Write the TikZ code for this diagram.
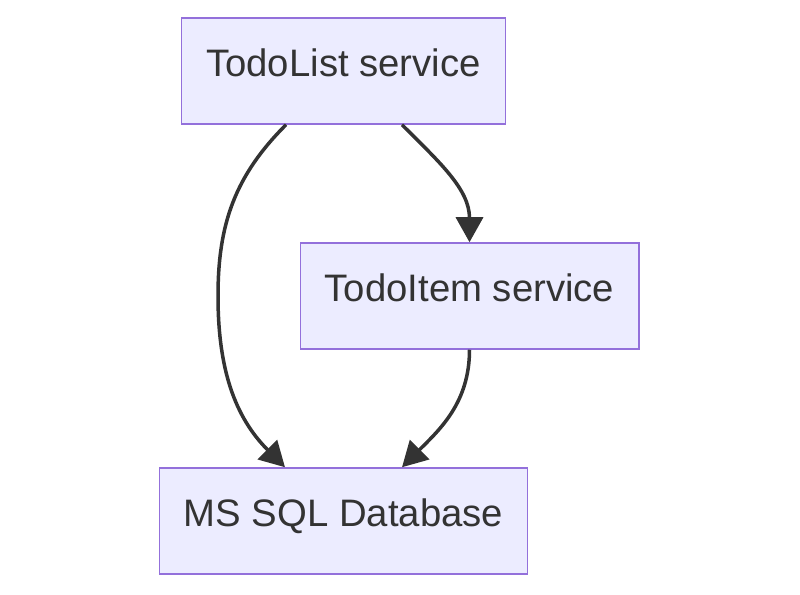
\documentclass[tikz,border=0pt]{standalone}
\usepackage{fontspec}
\setmainfont{Liberation Sans}
\usetikzlibrary{positioning,arrows.meta}

\definecolor{boxfill}{HTML}{ECECFF}
\definecolor{boxline}{HTML}{9370DB}
\definecolor{inkgray}{HTML}{333333}

\tikzset{
  service/.style={draw=boxline, fill=boxfill, line width=1.5pt,
    minimum height=106pt, inner xsep=24.5pt, text=inkgray,
    text height=27pt, text depth=15pt,
    font=\fontsize{38.3}{46}\selectfont},
  link/.style={draw=inkgray, line width=3.5pt,
    -{Triangle[length=25pt,width=27pt]}}
}

\begin{document}
\begin{tikzpicture}[x=1pt,y=1pt]
  \useasboundingbox (0,0) rectangle (800,594);

  \node[service] (list) at (343.5,523) {TodoList service};
  \node[service, below=117.5pt of list, xshift=126pt] (item) {TodoItem service};
  \node[service, below=117.5pt of item, xshift=-126pt] (db) {MS SQL Database};
  \coordinate (bend) at (218,298);

  \draw[link] ([xshift=-57.5pt]list.south) to[out=225,in=90] (bend)
    to[out=-90,in=135] ([xshift=-58.5pt]db.north);
  \draw[link] ([xshift=58.5pt]list.south) to[out=-45,in=90] (item.north);
  \draw[link] (item.south) to[out=-90,in=45] ([xshift=58.5pt]db.north);
\end{tikzpicture}
\end{document}
